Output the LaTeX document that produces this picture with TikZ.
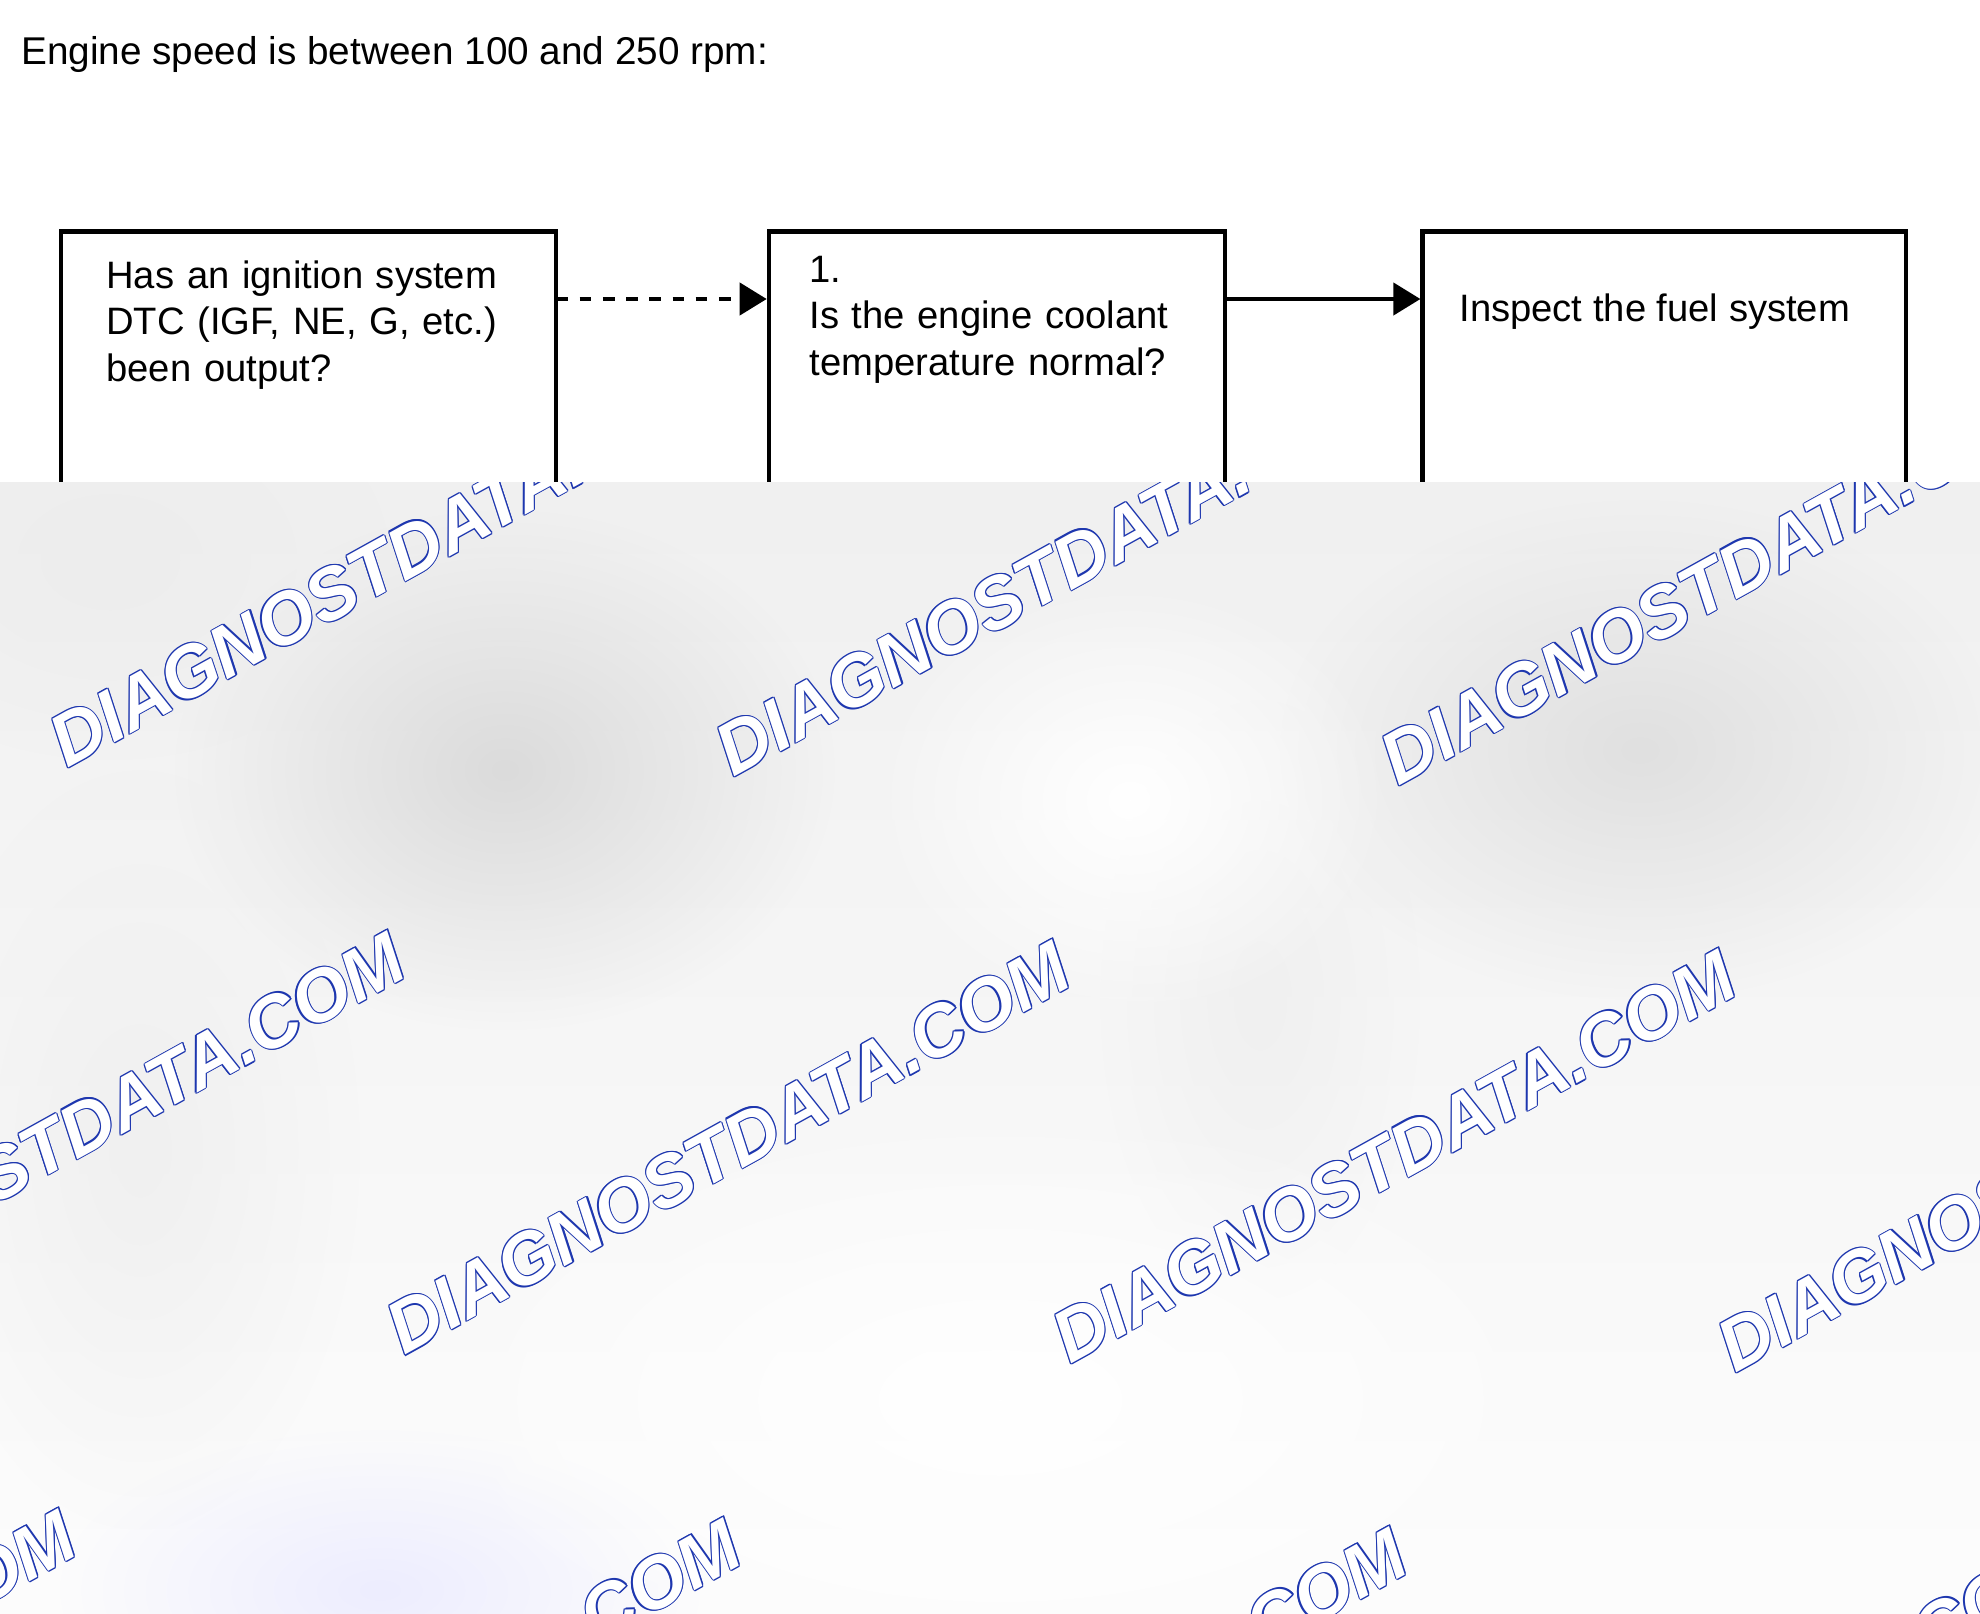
\documentclass[tikz,border=0pt]{standalone}
\usepackage{fontspec}
\setmainfont{Liberation Sans}
\usetikzlibrary{arrows.meta,fadings}
\definecolor{wmblue}{RGB}{30,55,175}
\tikzfading[name=softblob, inner color=transparent!0, outer color=transparent!100]
\newcommand\wmcopy[3]{\makebox[0pt][l]{\kern#1\raisebox{#2}{\textcolor{wmblue}{#3}}}}
\newcommand\wmark[1]{%
 \wmcopy{0.6pt}{0pt}{#1}\wmcopy{-0.6pt}{0pt}{#1}\wmcopy{0pt}{0.6pt}{#1}\wmcopy{0pt}{-0.6pt}{#1}%
 \wmcopy{0.43pt}{0.43pt}{#1}\wmcopy{-0.43pt}{0.43pt}{#1}\wmcopy{0.43pt}{-0.43pt}{#1}\wmcopy{-0.43pt}{-0.43pt}{#1}%
 \textcolor{white}{#1}}
\begin{document}
\begin{tikzpicture}[x=0.5pt, y=-0.5pt,
  box/.style={draw=black, line width=2.3pt, fill=white, rectangle, anchor=north west,
              minimum height=164pt, inner sep=0pt},
  lbl/.style={anchor=base west, inner sep=0pt, font=\fontsize{19.1pt}{23.3pt}\selectfont},
  para/.style={lbl, align=left, text width=240pt},
  flow/.style={line width=2.1pt, -{Triangle[length=13.5pt,width=16pt]}},
  dashflow/.style={flow, dash pattern=on 5.8pt off 5.8pt, dash phase=0.8pt},
  wm/.style={rotate=29, anchor=base west, inner sep=0pt,
             font=\fontsize{36.5pt}{40pt}\selectfont\bfseries\itshape}]
\useasboundingbox (0,0) rectangle (1980,1613);
\fill[white] (0,0) rectangle (1980,1613);

% title
\node[lbl, font=\fontsize{19.35pt}{23.3pt}\selectfont] (title) at (21,64) {Engine speed is between 100 and 250 rpm:};

% boxes
\node[box, minimum width=247.5pt] (b1) at (58.5,229.4) {};
\node[box, minimum width=227.9pt] (b2) at (766.7,229.4) {};
\node[box, minimum width=241.65pt] (b3) at (1420.4,229.4) {};

% box texts
\node[para] (t1) at (106,288) {Has an ignition system\\DTC (IGF, NE, G, etc.)\\been output?};
\node[para] (t2) at (809,282) {1.\\Is the engine coolant\\temperature normal?};
\node[lbl] (t3) at (1459,321) {Inspect the fuel system};

% connectors
\draw[dashflow] ([yshift=-34.8pt]b1.north east) -- ([yshift=-34.8pt]b2.north west);
\draw[flow] ([yshift=-34.8pt]b2.north east) -- ([yshift=-34.8pt]b3.north west);

% grey overlay
\shade[top color=black!6, bottom color=black!1] (0,482) rectangle (1980,1613);
\begin{scope}
\clip (0,482) rectangle (1980,1613);
\fill[black!14, path fading=softblob] (505,770) ellipse (330 and 260);
\fill[black!12, path fading=softblob] (1640,750) ellipse (360 and 250);
\fill[black!7, path fading=softblob] (110,560) ellipse (280 and 200);
\fill[black!6, path fading=softblob] (140,1150) ellipse (220 and 380);
\fill[black!6, path fading=softblob] (1260,1000) ellipse (160 and 300);
\fill[blue!7, path fading=softblob] (380,1590) ellipse (320 and 160);
\fill[white, path fading=softblob] (1130,800) ellipse (260 and 220);
\fill[white, path fading=softblob] (1000,1400) ellipse (600 and 300);

% watermark
\foreach \px/\py [count=\i] in {67/769, 733/778, 1398/787, -261/1347, 404/1356, 1070/1365, 1735/1374, -590/1925, 75/1934, 741/1943, 1407/1952}
  \node[wm] (w\i) at (\px,\py) {\wmark{DIAGNOSTDATA.COM}};
\end{scope}
\end{tikzpicture}
\end{document}
